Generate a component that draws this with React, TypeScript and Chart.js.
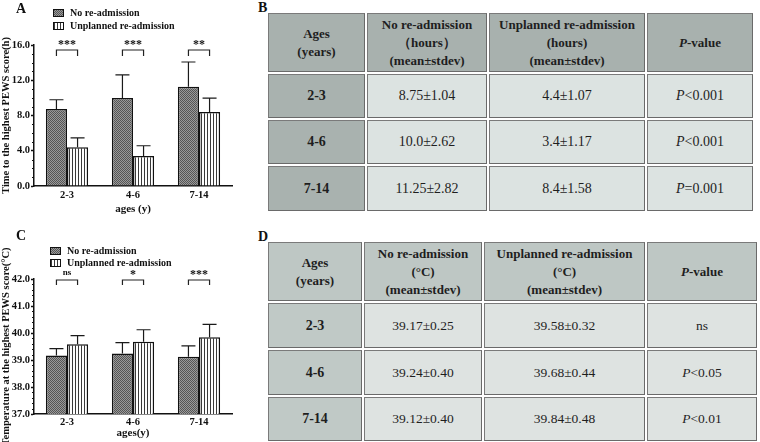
import React, { useEffect, useRef } from 'react';
import { Chart, registerables } from 'chart.js';

Chart.register(...registerables);

const SERIF = "'Liberation Serif', 'Times New Roman', serif";

// ---- shared categories / series ----
const ageGroups = ['2-3', '4-6', '7-14'];
const seriesNames = ['No re-admission', 'Unplanned re-admission'];

// ---- time to highest PEWS score (hours) ----
const hoursNoMean = [8.75, 10.0, 11.25];
const hoursNoSd = [1.04, 2.62, 2.82];
const hoursUnMean = [4.4, 3.4, 8.4];
const hoursUnSd = [1.07, 1.17, 1.58];
const hoursStars = ['***', '***', '**'];
const hoursP = ['P<0.001', 'P<0.001', 'P=0.001'];
const hoursAxis = { min: 0, max: 16, step: 4, minor: 1 };

// ---- temperature at highest PEWS score (°C) ----
const tempNoMean = [39.17, 39.24, 39.12];
const tempNoSd = [0.25, 0.4, 0.4];
const tempUnMean = [39.58, 39.68, 39.84];
const tempUnSd = [0.32, 0.44, 0.48];
const tempStars = ['ns', '*', '***'];
const tempP = ['ns', 'P<0.05', 'P<0.01'];
const tempAxis = { min: 37, max: 42, step: 1, minor: 0.2 };

const fmtHours = (v: number) => (Number.isInteger(v) ? v.toFixed(1) : String(v));
const fmtTemp = (v: number) => v.toFixed(2);

function checkerPattern(ctx: CanvasRenderingContext2D) {
  const c = document.createElement('canvas');
  c.width = 2;
  c.height = 2;
  const g = c.getContext('2d')!;
  g.fillStyle = '#9a9a9a';
  g.fillRect(0, 0, 2, 2);
  g.fillStyle = '#555555';
  g.fillRect(0, 0, 1, 1);
  g.fillRect(1, 1, 1, 1);
  return ctx.createPattern(c, 'repeat')!;
}

function stripePattern(ctx: CanvasRenderingContext2D) {
  const c = document.createElement('canvas');
  c.width = 3;
  c.height = 2;
  const g = c.getContext('2d')!;
  g.fillStyle = '#ffffff';
  g.fillRect(0, 0, 3, 2);
  g.fillStyle = '#3a3a3a';
  g.fillRect(0, 0, 1, 2);
  return ctx.createPattern(c, 'repeat')!;
}

interface PanelCfg {
  letter: string;
  top: number;
  height: number;
  padTop: number;
  padBottom: number;
  axis: { min: number; max: number; step: number; minor: number };
  means: number[][];
  sds: number[][];
  stars: string[];
  yTitle: string;
  xTitle: string;
  tickDy: number;
  titleDy: number;
  legendX: number;
  legendY: number[];
  letterY: number;
  bracketDy: number;
  bracketLeg: number;
  starDy: number;
}

function annotPlugin(cfg: PanelCfg, fills: CanvasPattern[]) {
  return {
    id: 'annot',
    afterDatasetsDraw(chart: any) {
      const ctx: CanvasRenderingContext2D = chart.ctx;
      const y = chart.scales.y;
      const area = chart.chartArea;
      ctx.save();
      // error bars (mean + sd, upward only)
      ctx.strokeStyle = '#1a1a1a';
      ctx.lineWidth = 1.2;
      cfg.means.forEach((series, i) => {
        const meta = chart.getDatasetMeta(i);
        series.forEach((m, j) => {
          const el = meta.data[j];
          const top = y.getPixelForValue(m + cfg.sds[i][j]);
          ctx.beginPath();
          ctx.moveTo(el.x, el.y);
          ctx.lineTo(el.x, top);
          ctx.moveTo(el.x - 7, top);
          ctx.lineTo(el.x + 7, top);
          ctx.stroke();
        });
      });
      // significance brackets
      const m0 = chart.getDatasetMeta(0);
      const m1 = chart.getDatasetMeta(1);
      const by = area.top + cfg.bracketDy;
      cfg.stars.forEach((s, j) => {
        const x1 = m0.data[j].x;
        const x2 = m1.data[j].x;
        ctx.strokeStyle = '#222';
        ctx.lineWidth = 1.2;
        ctx.beginPath();
        ctx.moveTo(x1, by + cfg.bracketLeg);
        ctx.lineTo(x1, by);
        ctx.lineTo(x2, by);
        ctx.lineTo(x2, by + cfg.bracketLeg);
        ctx.stroke();
        ctx.fillStyle = '#111';
        ctx.font = `bold ${s === 'ns' ? 9 : 12}px ${SERIF}`;
        ctx.textAlign = 'center';
        ctx.textBaseline = 'middle';
        ctx.fillText(s, (x1 + x2) / 2, area.top + cfg.starDy + (s === 'ns' ? 0 : 2));
      });
      ctx.restore();
    },
    afterDraw(chart: any) {
      const ctx: CanvasRenderingContext2D = chart.ctx;
      const y = chart.scales.y;
      const x = chart.scales.x;
      const area = chart.chartArea;
      ctx.save();
      // minor ticks on the value axis
      ctx.strokeStyle = '#111';
      ctx.lineWidth = 1;
      const { min, max, step, minor } = cfg.axis;
      const n = Math.round((max - min) / minor);
      const per = Math.round(step / minor);
      for (let k = 0; k <= n; k++) {
        if (k % per === 0) continue;
        const py = Math.round(y.getPixelForValue(min + k * minor)) + 0.5;
        ctx.beginPath();
        ctx.moveTo(area.left - 2, py);
        ctx.lineTo(area.left, py);
        ctx.stroke();
      }
      // category labels and axis title
      ctx.fillStyle = '#111';
      ctx.textAlign = 'center';
      ctx.textBaseline = 'middle';
      ctx.font = `bold 10.5px ${SERIF}`;
      ageGroups.forEach((g, j) => {
        ctx.fillText(g, x.getPixelForValue(j), area.bottom + cfg.tickDy);
      });
      ctx.font = `bold 11px ${SERIF}`;
      ctx.fillText(cfg.xTitle, (area.left + area.right) / 2, area.bottom + cfg.titleDy);
      // panel letter
      ctx.font = `bold 14px ${SERIF}`;
      ctx.textAlign = 'left';
      ctx.fillText(cfg.letter, 16, cfg.letterY);
      // legend
      ctx.font = `bold 10px ${SERIF}`;
      seriesNames.forEach((name, i) => {
        const ly = cfg.legendY[i];
        ctx.fillStyle = fills[i];
        ctx.fillRect(cfg.legendX, ly - 3.5, 10, 7);
        ctx.strokeStyle = '#111';
        ctx.lineWidth = 1;
        ctx.strokeRect(cfg.legendX + 0.5, ly - 3.5, 10, 7);
        ctx.fillStyle = '#111';
        ctx.fillText(name, cfg.legendX + 17, ly + 0.5);
      });
      ctx.restore();
    },
  };
}

function BarPanel({ cfg }: { cfg: PanelCfg }) {
  const ref = useRef<HTMLCanvasElement>(null);
  useEffect(() => {
    const canvas = ref.current!;
    const ctx = canvas.getContext('2d')!;
    const fills = [checkerPattern(ctx), stripePattern(ctx)];
    const chart = new Chart(ctx, {
      type: 'bar',
      data: {
        labels: ageGroups,
        datasets: cfg.means.map((m, i) => ({
          label: seriesNames[i],
          data: m,
          backgroundColor: fills[i],
          borderColor: '#111',
          borderWidth: 1.5,
          categoryPercentage: 0.64,
          barPercentage: 1,
        })),
      },
      options: {
        responsive: false,
        animation: false,
        events: [],
        layout: { padding: { top: cfg.padTop, right: 18, left: 0, bottom: cfg.padBottom } },
        plugins: { legend: { display: false }, tooltip: { enabled: false } },
        scales: {
          x: {
            grid: { display: false, drawTicks: false, tickLength: 0 },
            border: { display: true, color: '#111', width: 1.5 },
            ticks: { display: false },
            title: { display: false },
          },
          y: {
            min: cfg.axis.min,
            max: cfg.axis.max,
            ticks: {
              stepSize: cfg.axis.step,
              font: { family: SERIF, size: 10.5, weight: 'bold' },
              color: '#111',
              padding: 1,
              callback: (v: any) => Number(v).toFixed(1),
            },
            grid: { drawOnChartArea: false, tickLength: 3, tickColor: '#111', tickWidth: 1.5 },
            border: { color: '#111', width: 1.5 },
            title: {
              display: true,
              text: cfg.yTitle,
              font: { family: SERIF, size: 10.5, weight: 'bold' },
              color: '#111',
              padding: { top: 0, bottom: 2 },
            },
            afterFit: (s: any) => {
              s.width = 34;
            },
          },
        },
      },
      plugins: [annotPlugin(cfg, fills) as any],
    });
    return () => chart.destroy();
  }, [cfg]);
  return (
    <canvas
      ref={ref}
      width={250}
      height={cfg.height}
      style={{ position: 'absolute', left: 0, top: cfg.top, width: 250, height: cfg.height }}
    />
  );
}

const hoursPanel: PanelCfg = {
  letter: 'A',
  top: 0,
  height: 220,
  padTop: 45,
  padBottom: 34,
  axis: hoursAxis,
  means: [hoursNoMean, hoursUnMean],
  sds: [hoursNoSd, hoursUnSd],
  stars: hoursStars,
  yTitle: 'Time to the highest PEWS score(h)',
  xTitle: 'ages (y)',
  tickDy: 9,
  titleDy: 23,
  legendX: 53,
  legendY: [13, 26],
  letterY: 9,
  bracketDy: 5,
  bracketLeg: 6,
  starDy: -2,
};

const tempPanel: PanelCfg = {
  letter: 'C',
  top: 220,
  height: 222,
  padTop: 59,
  padBottom: 28,
  axis: tempAxis,
  means: [tempNoMean, tempUnMean],
  sds: [tempNoSd, tempUnSd],
  stars: tempStars,
  yTitle: 'Temperature at the highest PEWS score(°C)',
  xTitle: 'ages(y)',
  tickDy: 8,
  titleDy: 19,
  legendX: 50,
  legendY: [31, 43],
  letterY: 16,
  bracketDy: 1,
  bracketLeg: 5,
  starDy: -6,
};

interface TableCfg {
  letter: string;
  left: number;
  top: number;
  cols: number[];
  rows: number[];
  headBg: string;
  ageBg: string;
  bodyBg: string;
  unit: string;
  unitNo: string;
  noMean: number[];
  noSd: number[];
  unMean: number[];
  unSd: number[];
  fmt: (v: number) => string;
  pvals: string[];
  bodySize: number;
}

function PCell({ text }: { text: string }) {
  if (text.startsWith('P')) {
    return (
      <span>
        <i>P</i>
        {text.slice(1)}
      </span>
    );
  }
  return <span>{text}</span>;
}

function StatTable({ t }: { t: TableCfg }) {
  const cell = (bg: string, extra: React.CSSProperties = {}): React.CSSProperties => ({
    background: bg,
    border: '1px solid #7a7a7a',
    borderRightColor: '#6a6a6a',
    borderBottomColor: '#6a6a6a',
    boxSizing: 'border-box',
    display: 'flex',
    alignItems: 'center',
    justifyContent: 'center',
    textAlign: 'center',
    color: '#1e1e1e',
    ...extra,
  });
  const head = cell(t.headBg, { fontWeight: 'bold', fontSize: 13, lineHeight: '18px' });
  const body = cell(t.bodyBg, { fontSize: t.bodySize });
  const age = cell(t.ageBg, { fontWeight: 'bold', fontSize: 14 });
  return (
    <>
      <div
        style={{
          position: 'absolute',
          left: t.left - 10,
          top: t.top - 12,
          fontFamily: SERIF,
          fontWeight: 'bold',
          fontSize: 14,
          lineHeight: '14px',
          color: '#111',
        }}
      >
        {t.letter}
      </div>
      <div
        style={{
          position: 'absolute',
          left: t.left,
          top: t.top,
          display: 'grid',
          gridTemplateColumns: t.cols.map((c) => `${c}px`).join(' '),
          gridTemplateRows: t.rows.map((r) => `${r}px`).join(' '),
          gap: 2,
          fontFamily: SERIF,
        }}
      >
        <div style={head}>
          <span>
            Ages
            <br />
            (years)
          </span>
        </div>
        <div style={head}>
          <span>
            No re-admission
            <br />
            {t.unitNo}
            <br />
            (mean±stdev)
          </span>
        </div>
        <div style={head}>
          <span>
            Unplanned re-admission
            <br />
            {t.unit}
            <br />
            (mean±stdev)
          </span>
        </div>
        <div style={head}>
          <span>
            <i>P</i>-value
          </span>
        </div>
        {ageGroups.map((g, j) => (
          <React.Fragment key={g}>
            <div style={age}>{g}</div>
            <div style={body}>
              {t.fmt(t.noMean[j])}±{t.fmt(t.noSd[j])}
            </div>
            <div style={body}>
              {t.fmt(t.unMean[j])}±{t.fmt(t.unSd[j])}
            </div>
            <div style={body}>
              <PCell text={t.pvals[j]} />
            </div>
          </React.Fragment>
        ))}
      </div>
    </>
  );
}

const hoursTable: TableCfg = {
  letter: 'B',
  left: 268,
  top: 13,
  cols: [97, 120, 156, 106],
  rows: [59, 44, 44, 45],
  headBg: '#a8b1ae',
  ageBg: '#a9b2af',
  bodyBg: '#dce3e1',
  unit: '(hours)',
  unitNo: '（hours）',
  noMean: hoursNoMean,
  noSd: hoursNoSd,
  unMean: hoursUnMean,
  unSd: hoursUnSd,
  fmt: fmtHours,
  pvals: hoursP,
  bodySize: 14,
};

const tempTable: TableCfg = {
  letter: 'D',
  left: 268,
  top: 242,
  cols: [94, 118, 161, 110],
  rows: [59, 45, 45, 44],
  headBg: '#bec7c4',
  ageBg: '#c0c9c6',
  bodyBg: '#dee3e1',
  unit: '(°C)',
  unitNo: '(°C)',
  noMean: tempNoMean,
  noSd: tempNoSd,
  unMean: tempUnMean,
  unSd: tempUnSd,
  fmt: fmtTemp,
  pvals: tempP,
  bodySize: 13.5,
};

export default function App() {
  return (
    <div
      style={{
        position: 'absolute',
        left: 0,
        top: 0,
        width: 760,
        height: 442,
        background: '#ffffff',
        overflow: 'hidden',
      }}
    >
      <BarPanel cfg={hoursPanel} />
      <BarPanel cfg={tempPanel} />
      <StatTable t={hoursTable} />
      <StatTable t={tempTable} />
    </div>
  );
}
